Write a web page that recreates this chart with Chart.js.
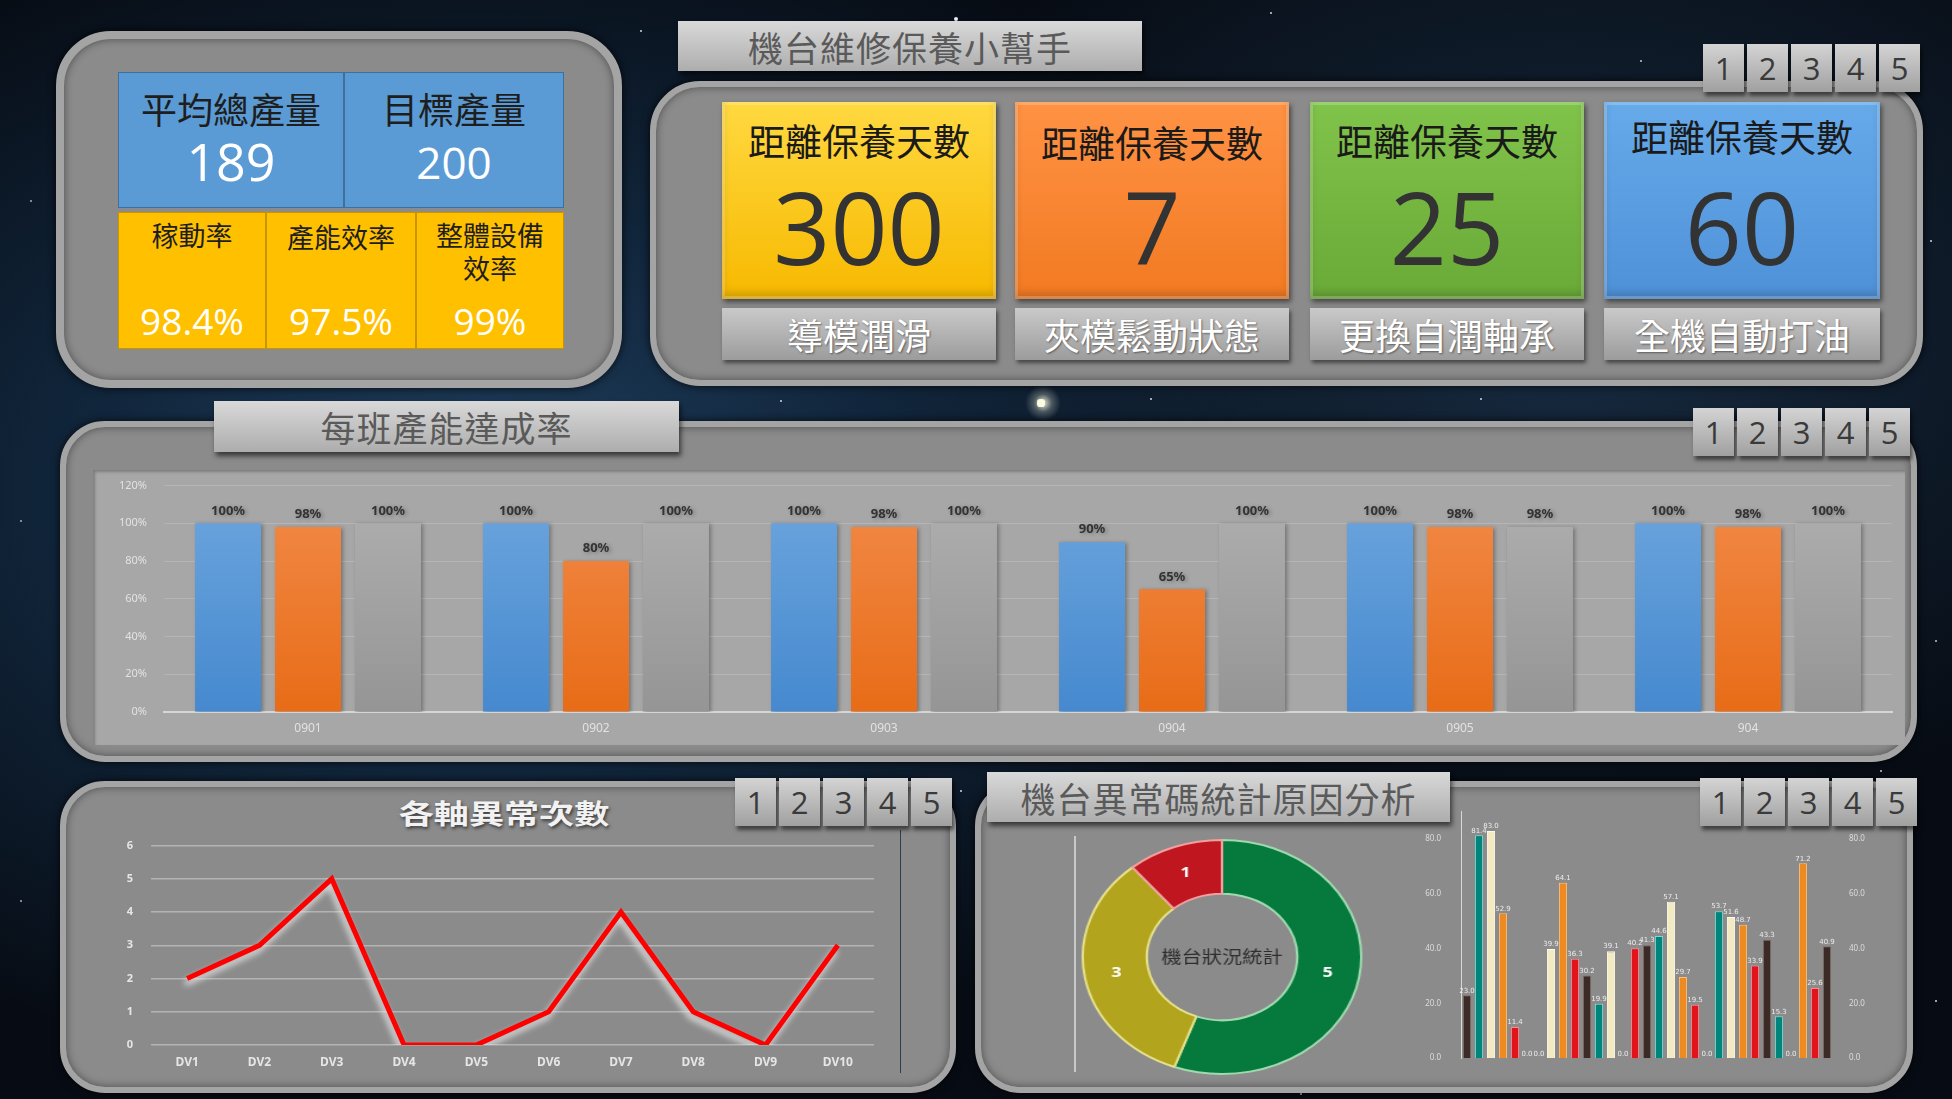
<!DOCTYPE html>
<html><head><meta charset="utf-8">
<script src="https://cdn.jsdelivr.net/npm/chart.js@4.4.0/dist/chart.umd.min.js"></script>
<style>
html,body{margin:0;padding:0;width:1952px;height:1099px;overflow:hidden;}
body{position:relative;font-family:"Noto Sans CJK TC","Noto Sans",sans-serif;
background:radial-gradient(ellipse 900px 600px at 25% 45%, #1f3d5c 0%, #11263c 45%, rgba(6,12,20,0) 100%),
radial-gradient(ellipse 700px 500px at 80% 30%, #172b41 0%, rgba(6,12,20,0) 100%),
#070c14;}
.stars{position:absolute;left:0;top:0;width:2px;height:2px;border-radius:50%;background:transparent;
box-shadow:640px 30px 0 0 #cfd8e6,955px 18px 0 1px #e8eef8,1270px 12px 0 0 #cfd8e6,1640px 60px 0 0 #bcc8d8,30px 200px 0 0 #9fb0c4,
620px 250px 0 0 #cfd8e6,1930px 240px 0 0 #cfd8e6,1040px 402px 0 3px #f4f4e0,1150px 398px 0 0 #cfd8e6,660px 110px 0 0 #cfd8e6,
20px 520px 0 0 #9fb0c4,1935px 640px 0 0 #bcc8d8,960px 790px 0 0 #cfd8e6,20px 900px 0 0 #9fb0c4,1935px 1000px 0 0 #cfd8e6,
500px 1090px 0 0 #cfd8e6,1300px 1093px 0 0 #bcc8d8,780px 400px 0 0 #cfd8e6,1480px 398px 0 0 #cfd8e6,1880px 770px 0 0 #bcc8d8;}
.glow{position:absolute;left:1025px;top:385px;width:36px;height:36px;border-radius:50%;background:radial-gradient(circle,rgba(255,255,230,.9) 0%,rgba(255,255,230,.25) 35%,rgba(255,255,230,0) 70%);}
.panel{position:absolute;box-sizing:border-box;background:#8b8b8b;border:6px solid #a4a4a4;
box-shadow:inset 0 0 8px rgba(0,0,0,.45),0 0 8px rgba(0,0,0,.8);}
.tab{position:absolute;box-sizing:border-box;background:linear-gradient(#d9d9d9,#adadad);color:#5a5a5a;font-size:35px;
display:flex;align-items:center;justify-content:center;box-shadow:2px 4px 5px rgba(0,0,0,.6);letter-spacing:1px;}
.btns{position:absolute;display:flex;gap:3px;}
.btn{width:41px;height:48px;background:linear-gradient(#d4d4d4,#a0a0a0);color:#3a3a3a;font-size:31px;font-family:"Open Sans",sans-serif;
display:flex;align-items:center;justify-content:center;box-shadow:2px 4px 4px rgba(0,0,0,.55);}
.cell{position:absolute;box-sizing:border-box;text-align:center;}
.blue{background:#5b9bd5;border:1px solid #3f6f9c;color:#1e1e1e;}
.yel{background:#ffc000;border:1px solid #c79500;color:#1e1e1e;}
.lab{position:absolute;left:0;width:100%;text-align:center;line-height:1;}
.card{position:absolute;box-sizing:border-box;box-shadow:inset 0 0 0 3px rgba(255,255,255,.22),inset 0 -6px 8px rgba(0,0,0,.18),2px 3px 5px rgba(0,0,0,.5);}
.cardlab{position:absolute;box-sizing:border-box;background:linear-gradient(#c9c9c9,#9c9c9c);color:#fff;font-size:36px;
display:flex;align-items:center;justify-content:center;text-shadow:1px 1px 2px rgba(0,0,0,.45);box-shadow:2px 3px 4px rgba(0,0,0,.5);}
.cbox{position:absolute;}
</style></head>
<body>
<div class="stars"></div>
<div class="glow"></div>

<!-- Top-left KPI panel -->
<div class="panel" style="left:56px;top:31px;width:566px;height:357px;border-radius:55px;border-width:8px;"></div>
<div class="cell blue" style="left:118px;top:72px;width:226px;height:136px;">
  <div class="lab" style="top:17px;font-size:36px;">平均總產量</div>
  <div class="lab" style="top:62px;font-size:52px;color:#fff;font-family:'Open Sans',sans-serif;">189</div>
</div>
<div class="cell blue" style="left:344px;top:72px;width:220px;height:136px;">
  <div class="lab" style="top:17px;font-size:36px;">目標產量</div>
  <div class="lab" style="top:67px;font-size:44px;color:#fff;font-family:'Open Sans',sans-serif;">200</div>
</div>
<div class="cell yel" style="left:118px;top:212px;width:148px;height:137px;">
  <div class="lab" style="top:8px;font-size:27px;">稼動率</div>
  <div class="lab" style="top:89px;font-size:37px;color:#fff;font-family:'Open Sans',sans-serif;">98.4%</div>
</div>
<div class="cell yel" style="left:266px;top:212px;width:150px;height:137px;">
  <div class="lab" style="top:10px;font-size:27px;">產能效率</div>
  <div class="lab" style="top:89px;font-size:37px;color:#fff;font-family:'Open Sans',sans-serif;">97.5%</div>
</div>
<div class="cell yel" style="left:416px;top:212px;width:148px;height:137px;">
  <div class="lab" style="top:8px;font-size:27px;">整體設備</div>
  <div class="lab" style="top:41px;font-size:27px;">效率</div>
  <div class="lab" style="top:89px;font-size:37px;color:#fff;font-family:'Open Sans',sans-serif;">99%</div>
</div>

<!-- Top-right maintenance panel -->
<div class="panel" style="left:650px;top:81px;width:1273px;height:305px;border-radius:50px;"></div>
<div class="tab" style="left:678px;top:21px;width:464px;height:50px;">機台維修保養小幫手</div>
<div class="btns" style="left:1703px;top:44px;"><div class="btn">1</div><div class="btn">2</div><div class="btn">3</div><div class="btn">4</div><div class="btn">5</div></div>

<div class="card" style="left:722px;top:102px;width:274px;height:197px;background:linear-gradient(#ffd940,#f7b900);">
  <div class="lab" style="top:20px;font-size:37px;color:#1a1a1a;">距離保養天數</div>
  <div class="lab" style="top:74px;font-size:100px;color:#333;font-family:'Open Sans',sans-serif;">300</div></div>
<div class="card" style="left:1015px;top:102px;width:274px;height:197px;background:linear-gradient(#ff9244,#f27a22);">
  <div class="lab" style="top:22px;font-size:37px;color:#1a1a1a;">距離保養天數</div>
  <div class="lab" style="top:74px;font-size:100px;color:#333;font-family:'Open Sans',sans-serif;">7</div></div>
<div class="card" style="left:1310px;top:102px;width:274px;height:197px;background:linear-gradient(#80c34a,#6aaa38);">
  <div class="lab" style="top:20px;font-size:37px;color:#1a1a1a;">距離保養天數</div>
  <div class="lab" style="top:74px;font-size:100px;color:#333;font-family:'Open Sans',sans-serif;">25</div></div>
<div class="card" style="left:1604px;top:102px;width:276px;height:197px;background:linear-gradient(#66aaea,#4f91d8);">
  <div class="lab" style="top:16px;font-size:37px;color:#1a1a1a;">距離保養天數</div>
  <div class="lab" style="top:74px;font-size:100px;color:#333;font-family:'Open Sans',sans-serif;">60</div></div>

<div class="cardlab" style="left:722px;top:308px;width:274px;height:52px;">導模潤滑</div>
<div class="cardlab" style="left:1015px;top:308px;width:274px;height:52px;">夾模鬆動狀態</div>
<div class="cardlab" style="left:1310px;top:308px;width:274px;height:52px;">更換自潤軸承</div>
<div class="cardlab" style="left:1604px;top:308px;width:276px;height:52px;">全機自動打油</div>

<!-- Middle panel -->
<div class="panel" style="left:60px;top:421px;width:1857px;height:341px;border-radius:45px;"></div>
<div style="position:absolute;left:93px;top:470px;width:1812px;height:275px;background:#a7a7a7;box-shadow:inset 2px 2px 3px rgba(0,0,0,.25);"></div>
<div class="tab" style="left:214px;top:401px;width:465px;height:51px;">每班產能達成率</div>
<div class="btns" style="left:1693px;top:408px;"><div class="btn">1</div><div class="btn">2</div><div class="btn">3</div><div class="btn">4</div><div class="btn">5</div></div>
<div class="cbox" style="left:93px;top:462px;width:1812px;height:286px;"><canvas id="shiftChart"></canvas></div>

<!-- Bottom-left panel -->
<div class="panel" style="left:60px;top:781px;width:896px;height:312px;border-radius:45px;"></div>
<div style="position:absolute;left:900px;top:830px;width:1px;height:243px;background:#2a3f55;"></div>
<div style="position:absolute;left:404px;top:796px;width:200px;text-align:center;font-size:27px;line-height:34px;font-weight:bold;color:#f2f2f2;text-shadow:1px 2px 3px rgba(0,0,0,.6);transform:scaleX(1.3);transform-origin:center;">各軸異常次數</div>
<div class="btns" style="left:735px;top:778px;"><div class="btn">1</div><div class="btn">2</div><div class="btn">3</div><div class="btn">4</div><div class="btn">5</div></div>
<div class="cbox" style="left:100px;top:821px;width:800px;height:259px;"><canvas id="axisChart"></canvas></div>

<!-- Bottom-right panel -->
<div class="panel" style="left:975px;top:781px;width:938px;height:312px;border-radius:45px;"></div>
<div class="tab" style="left:987px;top:772px;width:463px;height:50px;">機台異常碼統計原因分析</div>
<div class="btns" style="left:1700px;top:778px;"><div class="btn">1</div><div class="btn">2</div><div class="btn">3</div><div class="btn">4</div><div class="btn">5</div></div>
<div style="position:absolute;left:1074px;top:836px;width:2px;height:236px;background:#c8c8c8;"></div>
<div class="cbox" style="left:1102px;top:837px;width:240px;height:240px;transform:scaleX(1.19);transform-origin:center;"><canvas id="statusChart"></canvas></div>
<div class="cbox" style="left:1410px;top:795px;width:460px;height:280px;"><canvas id="codeChart"></canvas></div>

<script>
// ---------- Data ----------
const shiftLabels = ['0901','0902','0903','0904','0905','904'];
const shiftSeriesA = [100,100,100,90,100,100];
const shiftSeriesB = [98,80,98,65,98,98];
const shiftSeriesC = [100,100,100,100,98,100];

const axisLabels = ['DV1','DV2','DV3','DV4','DV5','DV6','DV7','DV8','DV9','DV10'];
const axisCounts = [2,3,5,0,0,1,4,1,0,3];

const statusValues = [5,3,1];
const statusColors = ['#067a3c','#b2a41d','#c0161f'];
const statusBorders = ['#9fd9b0','#e6e08a','#f0a0a0'];

const codeValues = [23.0,81.4,83.0,52.9,11.4,0,0,39.9,64.1,36.3,30.2,19.9,39.1,0,40.2,41.3,44.6,57.1,29.7,19.5,0,53.7,51.6,48.7,33.9,43.3,15.3,0,71.2,25.6,40.9];
const codePalette = ['#3b2a26','#00857c','#f1eac3','#ee8a22','#e3131c'];
const codePaletteEdge = ['#7d6b63','#7fd9d0','#fffbe8','#ffc07a','#ff8a90'];

// ---------- Plugins ----------
const valueLabels = {
  id:'valueLabels',
  afterDatasetsDraw(chart, args, opts){
    if(!opts || !opts.enabled) return;
    const ctx = chart.ctx;
    ctx.save();
    ctx.font = opts.font; ctx.fillStyle = opts.color; ctx.textAlign='center'; ctx.textBaseline='bottom';
    chart.data.datasets.forEach((ds,i)=>{
      const meta = chart.getDatasetMeta(i);
      if(meta.hidden) return;
      meta.data.forEach((el,j)=>{
        const v = ds.data[j];
        ctx.fillText(opts.fmt(v), el.x, el.y - opts.offset);
      });
    });
    ctx.restore();
  }
};
const shadowPlug = {
  id:'shadowPlug',
  beforeDatasetsDraw(chart, args, opts){
    if(!opts || !opts.enabled) return;
    const c = chart.ctx; c.save();
    c.shadowColor = opts.color; c.shadowBlur = opts.blur; c.shadowOffsetX = opts.dx; c.shadowOffsetY = opts.dy;
  },
  afterDatasetsDraw(chart, args, opts){
    if(!opts || !opts.enabled) return;
    chart.ctx.restore();
  }
};
const donutText = {
  id:'donutText',
  afterDatasetsDraw(chart, args, opts){
    if(!opts || !opts.enabled) return;
    const ctx = chart.ctx; const meta = chart.getDatasetMeta(0);
    ctx.save();
    ctx.textAlign='center'; ctx.textBaseline='middle';
    ctx.font = 'bold 15px "Noto Sans","DejaVu Sans",sans-serif'; ctx.fillStyle='#ffffff';
    meta.data.forEach((el,j)=>{
      const p = el.tooltipPosition();
      ctx.fillText(String(chart.data.datasets[0].data[j]), p.x, p.y);
    });
    const a = meta.data[0];
    ctx.font = '17px "Noto Sans CJK TC",sans-serif'; ctx.fillStyle='#2e2e2e';
    ctx.fillText(opts.center, a.x, a.y);
    ctx.restore();
  }
};
Chart.register(valueLabels, shadowPlug, donutText);
Chart.defaults.animation = false;
Chart.defaults.font.family = '"Noto Sans","DejaVu Sans",sans-serif';

function vGrad(c1, c2){
  return (ctx)=>{
    const ch = ctx.chart, ca = ch.chartArea;
    if(!ca) return c1;
    const g = ch.ctx.createLinearGradient(0, ca.top, 0, ca.bottom);
    g.addColorStop(0, c1); g.addColorStop(1, c2); return g;
  };
}

// ---------- Shift chart ----------
new Chart(document.getElementById('shiftChart'), {
  type:'bar',
  data:{ labels: shiftLabels, datasets:[
    {data: shiftSeriesA, backgroundColor: vGrad('#6da6de','#4689cf')},
    {data: shiftSeriesB, backgroundColor: vGrad('#f28b4a','#e86c17')},
    {data: shiftSeriesC, backgroundColor: vGrad('#b0b0b0','#959595')}
  ]},
  options:{
    responsive:true, maintainAspectRatio:false,
    categoryPercentage:0.833, barPercentage:0.825,
    layout:{padding:{top:0,right:13,left:0,bottom:0}},
    plugins:{legend:{display:false}, tooltip:{enabled:false},
      valueLabels:{enabled:true, font:'bold 13px "Noto Sans","DejaVu Sans",sans-serif', color:'#333', offset:6, fmt:v=>v+'%'},
      shadowPlug:{enabled:true, color:'rgba(0,0,0,0.3)', blur:4, dx:2, dy:1}},
    scales:{
      x:{grid:{display:false}, border:{color:'#d6d6d6', width:2},
         ticks:{color:'#e2e2e2', font:{size:12}, padding:1},
         afterFit(s){s.height=36;}},
      y:{min:0,max:120, ticks:{stepSize:20, color:'#e2e2e2', font:{size:11}, padding:17, callback:v=>v+'%'},
         grid:{color:'rgba(200,200,200,0.45)', drawTicks:false}, border:{display:false},
         afterFit(s){s.width=71;}}
    }
  }
});

// ---------- Axis anomaly line chart ----------
new Chart(document.getElementById('axisChart'), {
  type:'line',
  data:{ labels: axisLabels, datasets:[
    {data: axisCounts, borderColor:'#ff0000', borderWidth:5, pointRadius:0, tension:0, borderJoinStyle:'miter', fill:false}
  ]},
  options:{
    responsive:true, maintainAspectRatio:false,
    layout:{padding:{top:0,right:26,left:0,bottom:0}},
    plugins:{legend:{display:false}, tooltip:{enabled:false},
      shadowPlug:{enabled:true, color:'rgba(230,230,230,1)', blur:6, dx:-2, dy:5}},
    scales:{
      x:{offset:true, grid:{display:false}, border:{display:false},
         ticks:{color:'#e6e6e6', font:{size:12, weight:'bold'}, padding:2},
         afterFit(s){s.height=35;}},
      y:{min:0,max:6, ticks:{stepSize:1, color:'#e6e6e6', font:{size:11, weight:'bold'}, padding:18},
         grid:{color:'#b3b3b3', lineWidth:1.5, drawTicks:false}, border:{display:false},
         afterFit(s){s.width=51;}}
    }
  }
});

// ---------- Status doughnut ----------
new Chart(document.getElementById('statusChart'), {
  type:'doughnut',
  data:{ labels: ['', '', ''], datasets:[
    {data: statusValues, backgroundColor: statusColors, borderColor: statusBorders, borderWidth:2}
  ]},
  options:{
    responsive:true, maintainAspectRatio:false, cutout:'54%', rotation:0,
    layout:{padding:2},
    plugins:{legend:{display:false}, tooltip:{enabled:false}, donutText:{enabled:true, center:'機台狀況統計'}}
  }
});

// ---------- Error code bar chart ----------
const codeLabels = codeValues.map((v,i)=>String(i+1));
new Chart(document.getElementById('codeChart'), {
  type:'bar',
  data:{ labels: codeLabels, datasets:[
    {data: codeValues,
     backgroundColor: codeValues.map((v,i)=>codePalette[i%5]),
     borderColor: codeValues.map((v,i)=>codePaletteEdge[i%5]),
     borderWidth:1, categoryPercentage:1, barPercentage:0.68, yAxisID:'y'}
  ]},
  options:{
    responsive:true, maintainAspectRatio:false,
    layout:{padding:{top:0,right:0,left:0,bottom:0}},
    plugins:{legend:{display:false}, tooltip:{enabled:false},
      valueLabels:{enabled:true, font:'7px "DejaVu Sans",sans-serif', color:'#ececec', offset:1, fmt:v=>v.toFixed(1)}},
    scales:{
      x:{display:false},
      y:{position:'left', min:0, max:90,
         afterBuildTicks(s){s.ticks = s.ticks.filter(t=>t.value%20===0);},
         ticks:{stepSize:20, color:'#dcdcdc', font:{size:8}, padding:12, callback:v=>Number(v).toFixed(1)},
         grid:{display:false}, border:{display:true, color:'#d8d8d8', width:1},
         afterFit(s){s.width=51;}},
      y2:{position:'right', min:0, max:90,
         afterBuildTicks(s){s.ticks = s.ticks.filter(t=>t.value%20===0);},
         ticks:{stepSize:20, color:'#dcdcdc', font:{size:8}, padding:8, callback:v=>Number(v).toFixed(1)},
         grid:{display:false}, border:{display:false},
         afterFit(s){s.width=37;}}
    }
  }
});
</script>
</body></html>
